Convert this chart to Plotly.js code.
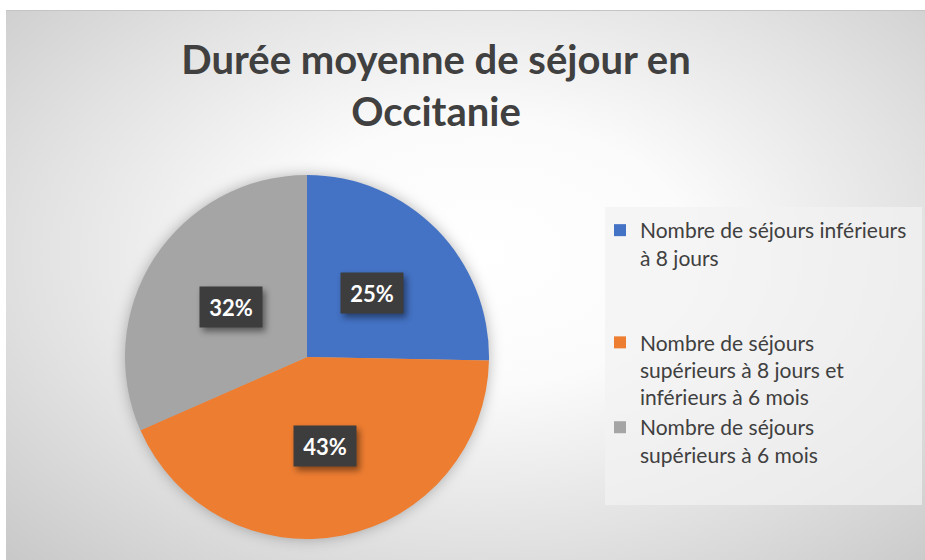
<!DOCTYPE html>
<html><head><meta charset="utf-8">
<script src="https://cdn.plot.ly/plotly-3.0.1.min.js"></script>
<style>
body{margin:0;background:#fff;}
#wrap{position:relative;width:925px;height:560px;overflow:hidden;}
#bg{position:absolute;left:6px;top:10px;width:919px;height:550px;
  background:radial-gradient(ellipse 75% 80% at 52% 44%, #ffffff 0%, #fbfbfb 30%, #e2e2e2 65%, #c7c7c7 100%);
  border-top:1px solid #c4c4c4;}
#chart{position:absolute;left:0;top:0;width:925px;height:560px;}
.pielayer .trace{filter:drop-shadow(0 0 7px rgba(0,0,0,0.28));}
.annotation rect.bg{filter:drop-shadow(3px 4px 3px rgba(0,0,0,0.45));}
</style></head><body>
<div id="wrap"><div id="bg"></div><div id="chart"></div></div>
<script>
const chartTitle = 'Durée moyenne de séjour en<br>Occitanie';
const categories = [
  'Nombre de séjours inférieurs<br>à 8 jours',
  'Nombre de séjours<br>supérieurs à 8 jours et<br>inférieurs à 6 mois',
  'Nombre de séjours<br>supérieurs à 6 mois'
];
const values = [25.3, 43.1, 31.6];
const colors = ['#4472C4', '#ED7D31', '#A5A5A5'];

const W = 925, H = 560;
const cx = 307, cyB = H - 357, R = 182;   // pie geometry (pixels)

// blank lines appended to legend entries to mimic the reference spacing
const legendPad = [2, 0, 0];
const legendLabels = categories.map((c, i) => c + '<br> '.repeat(legendPad[i]));

const total = values.reduce((a, b) => a + b, 0);
let cum = 0;
const annotations = [];
values.forEach((v, i) => {
  const mid = (cum + v / 2) / total * 2 * Math.PI;
  cum += v;
  const px = cx + 0.5 * R * Math.sin(mid);
  const py = cyB + 0.5 * R * Math.cos(mid);
  annotations.push({
    xref: 'paper', yref: 'paper', x: px / W, y: py / H,
    xanchor: 'center', yanchor: 'middle', showarrow: false,
    text: Math.round(v / total * 100) + '%',
    font: {family: 'Lato', size: 22, color: '#ffffff', weight: 'bold'},
    bgcolor: '#3d3d3d', borderpad: 7, width: 48, height: 26
  });
});

const trace = {
  type: 'pie', labels: legendLabels, values: values, sort: false,
  direction: 'clockwise', rotation: 0,
  marker: {colors: colors, line: {width: 0}},
  textinfo: 'none', hoverinfo: 'none',
  domain: {x: [(cx - R) / W, (cx + R) / W], y: [(cyB - R) / H, (cyB + R) / H]}
};

const layout = {
  width: W, height: H,
  margin: {l: 0, r: 0, t: 0, b: 0},
  paper_bgcolor: 'rgba(0,0,0,0)', plot_bgcolor: 'rgba(0,0,0,0)',
  font: {family: 'Lato', color: '#404040'},
  title: {text: chartTitle, x: 436 / W, xanchor: 'center', xref: 'paper',
          y: 1 - 74 / H, yanchor: 'top', yref: 'container',
          font: {family: 'Lato', size: 40, color: '#404040', weight: 'bold'}},
  showlegend: true,
  legend: {x: 600 / W, xanchor: 'left', y: 1 - 210 / H, yanchor: 'top',
           bgcolor: 'rgba(0,0,0,0)', borderwidth: 0, valign: 'top',
           font: {family: 'Lato', size: 21, color: '#404040'}},
  shapes: [{type: 'rect', xref: 'paper', yref: 'paper', layer: 'below',
            x0: 605 / W, x1: 922 / W, y0: 1 - 505 / H, y1: 1 - 207 / H,
            fillcolor: 'rgba(242,242,242,0.7)', line: {width: 0}}],
  annotations: annotations
};

Plotly.newPlot('chart', [trace], layout, {staticPlot: true, displayModeBar: false});
</script>
</body></html>
